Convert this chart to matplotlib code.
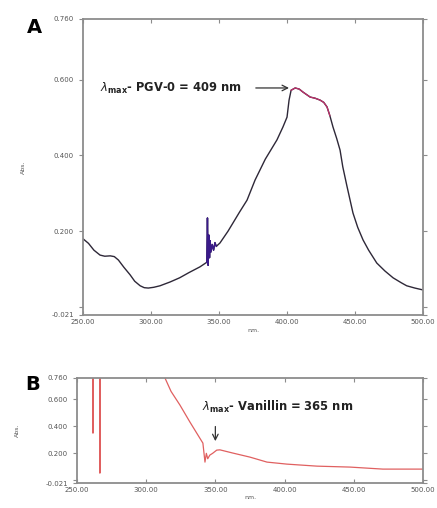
import numpy as np
import matplotlib
matplotlib.use("Agg")
import matplotlib.pyplot as plt

# ---- panel A: PGV-0 spectrum (nm, Abs.) ----
a_nm = [250, 254, 258, 262.5, 266, 270, 273, 276, 280, 284.6, 288, 292, 295, 298,
        302, 306.6, 314, 321, 328, 336, 341,
        341.5, 342, 342.5, 343, 343.5, 344, 345, 346, 347, 348,
        350.7, 356.6, 360.3, 365, 370.6, 376.5, 384, 392.6, 397, 400, 401.5, 403, 406,
        409, 411.8, 417, 420.6, 424.3, 427, 429.4, 431.5, 433.8, 436.5, 439, 441,
        444, 448.5, 452, 455.9, 460, 466, 472, 478, 484, 488, 494, 500]
a_abs = [0.180, 0.168, 0.150, 0.137, 0.134, 0.135, 0.133, 0.124, 0.105, 0.085, 0.068,
         0.056, 0.051, 0.050, 0.052, 0.056, 0.066, 0.077, 0.091, 0.106, 0.118,
         0.235, 0.110, 0.190, 0.130, 0.175, 0.145, 0.165, 0.150, 0.170, 0.160,
         0.169, 0.200, 0.222, 0.250, 0.282, 0.335, 0.390, 0.441, 0.475, 0.501, 0.546,
         0.572, 0.578, 0.575, 0.567, 0.554, 0.551, 0.546, 0.540, 0.528, 0.505, 0.475,
         0.445, 0.414, 0.370, 0.320, 0.248, 0.210, 0.177, 0.150, 0.116, 0.095, 0.077,
         0.064, 0.056, 0.050, 0.045]

# ---- panel B: vanillin spectrum ----
b_nm = [250, 261.4, 261.6, 261.8, 266.4, 266.6, 266.8, 300, 313.6, 318, 324.4, 331.6,
        337.4, 341, 342.5, 343.5, 344.5, 346, 348, 351, 353.3, 362.7, 375,
        387.3, 401.7, 423.4, 447.3, 471, 500]
b_abs = [1.2, 1.2, 0.350, 1.2, 1.2, 0.053, 1.2, 1.1, 0.760, 0.660, 0.559, 0.433,
         0.336, 0.276, 0.135, 0.200, 0.160, 0.187, 0.200, 0.224, 0.226, 0.202, 0.172,
         0.135, 0.120, 0.105, 0.098, 0.083, 0.083]

x_ticks = [250, 300, 350, 400, 450, 500]
x_labels = ["250.00", "300.00", "350.00", "400.00", "450.00", "500.00"]
y_ticks = [-0.021, 0.0, 0.2, 0.4, 0.6, 0.76]
y_labels = ["-0.021", "", "0.200", "0.400", "0.600", "0.760"]

SP = "#8c8c8c"; TXT = "#555555"

fig = plt.figure(figsize=(4.37, 5.08), dpi=100)
axA = fig.add_axes([0.190, 0.380, 0.778, 0.5826])
axB = fig.add_axes([0.176, 0.049, 0.792, 0.207])

def style(ax):
    ax.set_xlim(250, 500); ax.set_ylim(-0.021, 0.76)
    ax.set_xticks(x_ticks); ax.set_xticklabels(x_labels)
    ax.set_yticks(y_ticks); ax.set_yticklabels(y_labels)
    for s in ax.spines.values():
        s.set_color(SP); s.set_linewidth(1.3)
    ax.tick_params(axis="both", labelsize=5, colors=SP, labelcolor=TXT, length=3, width=0.8)
    ax.tick_params(axis="y", direction="out")
    ax.tick_params(axis="x", direction="in", top=True, pad=3)
    ax.tick_params(axis="y", right=True)

style(axA)
axA.plot(a_nm, a_abs, color="#2e2838", lw=1.0)
pk = [i for i, v in enumerate(a_nm) if 403 <= v <= 431.5]
axA.plot([a_nm[i] for i in pk], [a_abs[i] for i in pk], color="#c0306a", lw=0.9)
nz = [i for i, v in enumerate(a_nm) if 341 <= v <= 348]
axA.plot([a_nm[i] for i in nz], [a_abs[i] for i in nz], color="#3a1a8a", lw=1.0)
axA.annotate("", xy=(403.5, 0.578), xytext=(375, 0.578),
             arrowprops=dict(arrowstyle="->", color="#333333", lw=0.9))
axA.text(262.5, 0.578, r"$\lambda_{\mathbf{max}}$- PGV-0 = 409 nm", fontsize=8.3,
         fontweight="bold", color="#222222", va="center")
axA.set_ylabel("Abs.", fontsize=4.5, color=TXT, labelpad=18)
axA.set_xlabel("nm.", fontsize=4.5, color=TXT, labelpad=2)

style(axB)
axB.plot(b_nm, b_abs, color="#e06060", lw=0.9)
axB.annotate("", xy=(350, 0.27), xytext=(350, 0.42),
             arrowprops=dict(arrowstyle="->", color="#333333", lw=0.9))
axB.text(340, 0.545, r"$\lambda_{\mathbf{max}}$- Vanillin = 365 nm", fontsize=8.3,
         fontweight="bold", color="#222222", va="center")
axB.set_ylabel("Abs.", fontsize=4.5, color=TXT, labelpad=18)
axB.set_xlabel("nm.", fontsize=4.5, color=TXT, labelpad=1)

fig.text(0.080, 0.946, "A", fontsize=14, fontweight="bold", va="center", ha="center")
fig.text(0.075, 0.243, "B", fontsize=14, fontweight="bold", va="center", ha="center")

fig.savefig("out.png", dpi=100)
